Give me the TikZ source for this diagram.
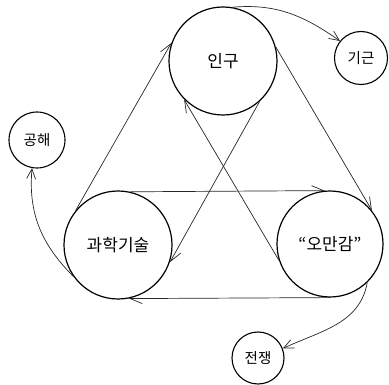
\documentclass[tikz,border=0pt]{standalone}
\usepackage{fontspec}
\newfontfamily\kr{Noto Sans CJK KR}
\usetikzlibrary{arrows.meta}
\tikzset{
  big/.style={circle, draw, line width=1.2pt, inner sep=0pt, minimum size=#1, font=\kr\fontsize{17}{19}\selectfont},
  small/.style={circle, draw, line width=1.1pt, inner sep=0pt, minimum size=#1, font=\kr\fontsize{14.5}{16}\selectfont},
  link/.style={line width=0.7pt, draw=black!85, -{Straight Barb[harpoon, length=12pt, width=10pt, line width=0.7pt]}},
  clink/.style={line width=0.7pt, draw=black!85, -{Straight Barb[length=10pt, width=9pt, line width=0.7pt]}}
}
\begin{document}
\begin{tikzpicture}[x=1pt, y=-1pt]
\useasboundingbox (0,0) rectangle (389,385);
\node[big=108pt] (ingu) at (223,61) {인구};
\node[big=108pt] (gw) at (118,245) {과학기술};
\node[big=106pt] (omg) at (330,244) {“오만감”};
\node[small=53pt] (gg) at (361,58) {기근};
\node[small=56pt] (gh) at (37,140) {공해};
\node[small=52pt] (jj) at (258,358) {전쟁};
% triangle links
\draw[link] (gw.141) -- (ingu.160);
\draw[link] (ingu.15) -- (omg.38);
\draw[link] (omg.198) -- (ingu.224);
\draw[link] (ingu.312) -- (gw.341);
\draw[link] (gw.77) -- (omg.95);
\draw[link] (omg.270) -- (gw.281);
% side links
\draw[clink] (ingu.80) to[out=5, in=145] (gg.141);
\draw[clink] (gw.215) to[out=135, in=265] (gh.260);
\draw[clink] (omg.314) to[out=-100, in=25] (jj.21);
\end{tikzpicture}
\end{document}
